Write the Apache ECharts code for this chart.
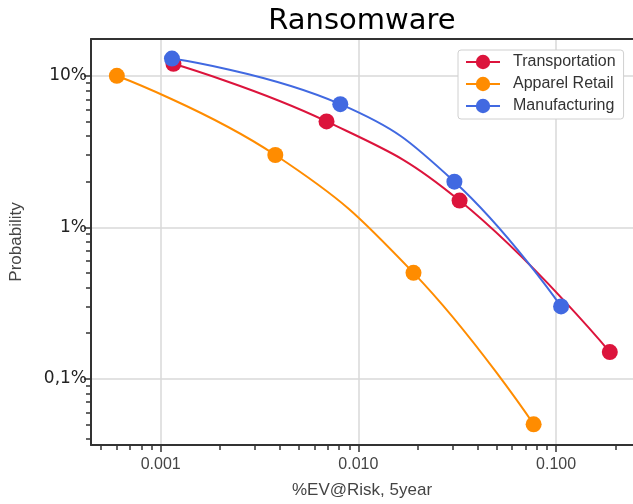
<!DOCTYPE html>
<html><head><meta charset="utf-8">
<script src="https://cdn.jsdelivr.net/npm/echarts@6/dist/echarts.min.js"></script>
<style>html,body{margin:0;padding:0;background:#fff;overflow:hidden}#c{width:633px;height:504px}</style>
</head><body><div id="c"></div>
<script>
const seriesNames = ['Transportation', 'Apparel Retail', 'Manufacturing'];
const transportationX = [0.00116, 0.0069, 0.0325, 0.187];
const transportationY = [12, 5, 1.5, 0.15];
const apparelX = [0.0006, 0.0038, 0.019, 0.077];
const apparelY = [10, 3, 0.5, 0.05];
const manufacturingX = [0.00114, 0.0081, 0.0306, 0.106];
const manufacturingY = [13, 6.5, 2, 0.3];
const xMajorTicks = [0.001, 0.01, 0.1];
const xMinorTicks = [0.0005, 0.0006, 0.0007, 0.0008, 0.0009,
  0.002, 0.003, 0.004, 0.005, 0.006, 0.007, 0.008, 0.009,
  0.02, 0.03, 0.04, 0.05, 0.06, 0.07, 0.08, 0.09, 0.2];
const yMajorTicks = [0.1, 1, 10];
const yMinorTicks = [0.04, 0.05, 0.06, 0.07, 0.08, 0.09,
  0.2, 0.3, 0.4, 0.5, 0.6, 0.7, 0.8, 0.9,
  2, 3, 4, 5, 6, 7, 8, 9];
const yTickLabels = {0.1: '0,1%', 1: '1%', 10: '10%'};
const xTickLabels = {0.001: '0.001', 0.01: '0.010', 0.1: '0.100'};
const colors = ['#DC143C', '#FF8C00', '#4169E1'];

const xs = [transportationX, apparelX, manufacturingX];
const ys = [transportationY, apparelY, manufacturingY];

const X_MIN = 0.000444, X_MAX = 0.245, Y_MIN = 0.0365, Y_MAX = 17.5;
const axisColor = '#333';

const chart = echarts.init(document.getElementById('c'), null, {renderer: 'canvas'});
chart.setOption({
  animation: false,
  backgroundColor: '#fff',
  color: colors,
  title: {
    text: 'Ransomware', left: 357, top: 2, textAlign: 'center',
    textStyle: {fontFamily: 'DejaVu Sans', fontSize: 29, fontWeight: 'normal', color: '#000'}
  },
  grid: {left: 89, top: 39, right: 0, bottom: 56, show: false, containLabel: false},
  legend: {
    data: seriesNames, orient: 'vertical', left: 458, top: 50,
    backgroundColor: '#fff', borderColor: '#d0d0d0', borderWidth: 1, borderRadius: 3,
    padding: [4, 8, 5, 7], itemWidth: 34, itemHeight: 18, itemGap: 6,
    textStyle: {fontFamily: 'Liberation Sans', fontSize: 16, color: '#333', padding: [0, 0, 0, 8]}
  },
  xAxis: [{
    type: 'log', min: X_MIN, max: X_MAX,
    name: '%EV@Risk, 5year', nameLocation: 'middle', nameGap: 37,
    nameTextStyle: {fontFamily: 'Liberation Sans', fontSize: 17, color: '#444'},
    axisLine: {show: true, lineStyle: {color: axisColor, width: 2}},
    axisTick: {show: true, length: 7, customValues: xMajorTicks, lineStyle: {color: axisColor, width: 1.5}},
    axisLabel: {customValues: xMajorTicks, margin: 12, fontFamily: 'Liberation Sans', fontSize: 16, color: '#444',
      formatter: v => xTickLabels[+v.toPrecision(3)] || ''},
    splitLine: {show: true, lineStyle: {color: '#d9d9d9', width: 1.5}},
    minorTick: {show: false}, minorSplitLine: {show: false}
  }, {
    type: 'log', min: X_MIN, max: X_MAX, position: 'bottom', offset: 0,
    axisLine: {show: false},
    axisTick: {show: true, length: 5, customValues: xMinorTicks, lineStyle: {color: axisColor, width: 1.5}},
    axisLabel: {show: false}, splitLine: {show: false}
  }, {
    type: 'log', min: X_MIN, max: X_MAX, position: 'top', offset: 0,
    axisLine: {show: true, lineStyle: {color: axisColor, width: 2}},
    axisTick: {show: false}, axisLabel: {show: false}, splitLine: {show: false}
  }],
  yAxis: [{
    type: 'log', min: Y_MIN, max: Y_MAX,
    name: 'Probability', nameLocation: 'middle', nameGap: 66,
    nameTextStyle: {fontFamily: 'Liberation Sans', fontSize: 17, color: '#444'},
    axisLine: {show: true, lineStyle: {color: axisColor, width: 2}},
    axisTick: {show: true, length: 7, customValues: yMajorTicks, lineStyle: {color: axisColor, width: 1.5}},
    axisLabel: {customValues: yMajorTicks, margin: 4, fontFamily: 'DejaVu Sans', fontSize: 17, color: '#222',
      formatter: v => yTickLabels[+v.toPrecision(3)] || ''},
    splitLine: {show: true, lineStyle: {color: '#d9d9d9', width: 1.5}},
    minorTick: {show: false}, minorSplitLine: {show: false}
  }, {
    type: 'log', min: Y_MIN, max: Y_MAX, position: 'left', offset: 0,
    axisLine: {show: false},
    axisTick: {show: true, length: 5, customValues: yMinorTicks, lineStyle: {color: axisColor, width: 1.5}},
    axisLabel: {show: false}, splitLine: {show: false}
  }],
  series: seriesNames.map((name, i) => ({
    name, type: 'line', xAxisIndex: 0, yAxisIndex: 0,
    data: xs[i].map((x, j) => [x, ys[i][j]]),
    smooth: 0.45, symbol: 'circle', symbolSize: 16,
    lineStyle: {width: 2, color: colors[i]},
    itemStyle: {color: colors[i]},
    z: 3 + (i === 2 ? 1 : 0)
  }))
});
</script></body></html>
